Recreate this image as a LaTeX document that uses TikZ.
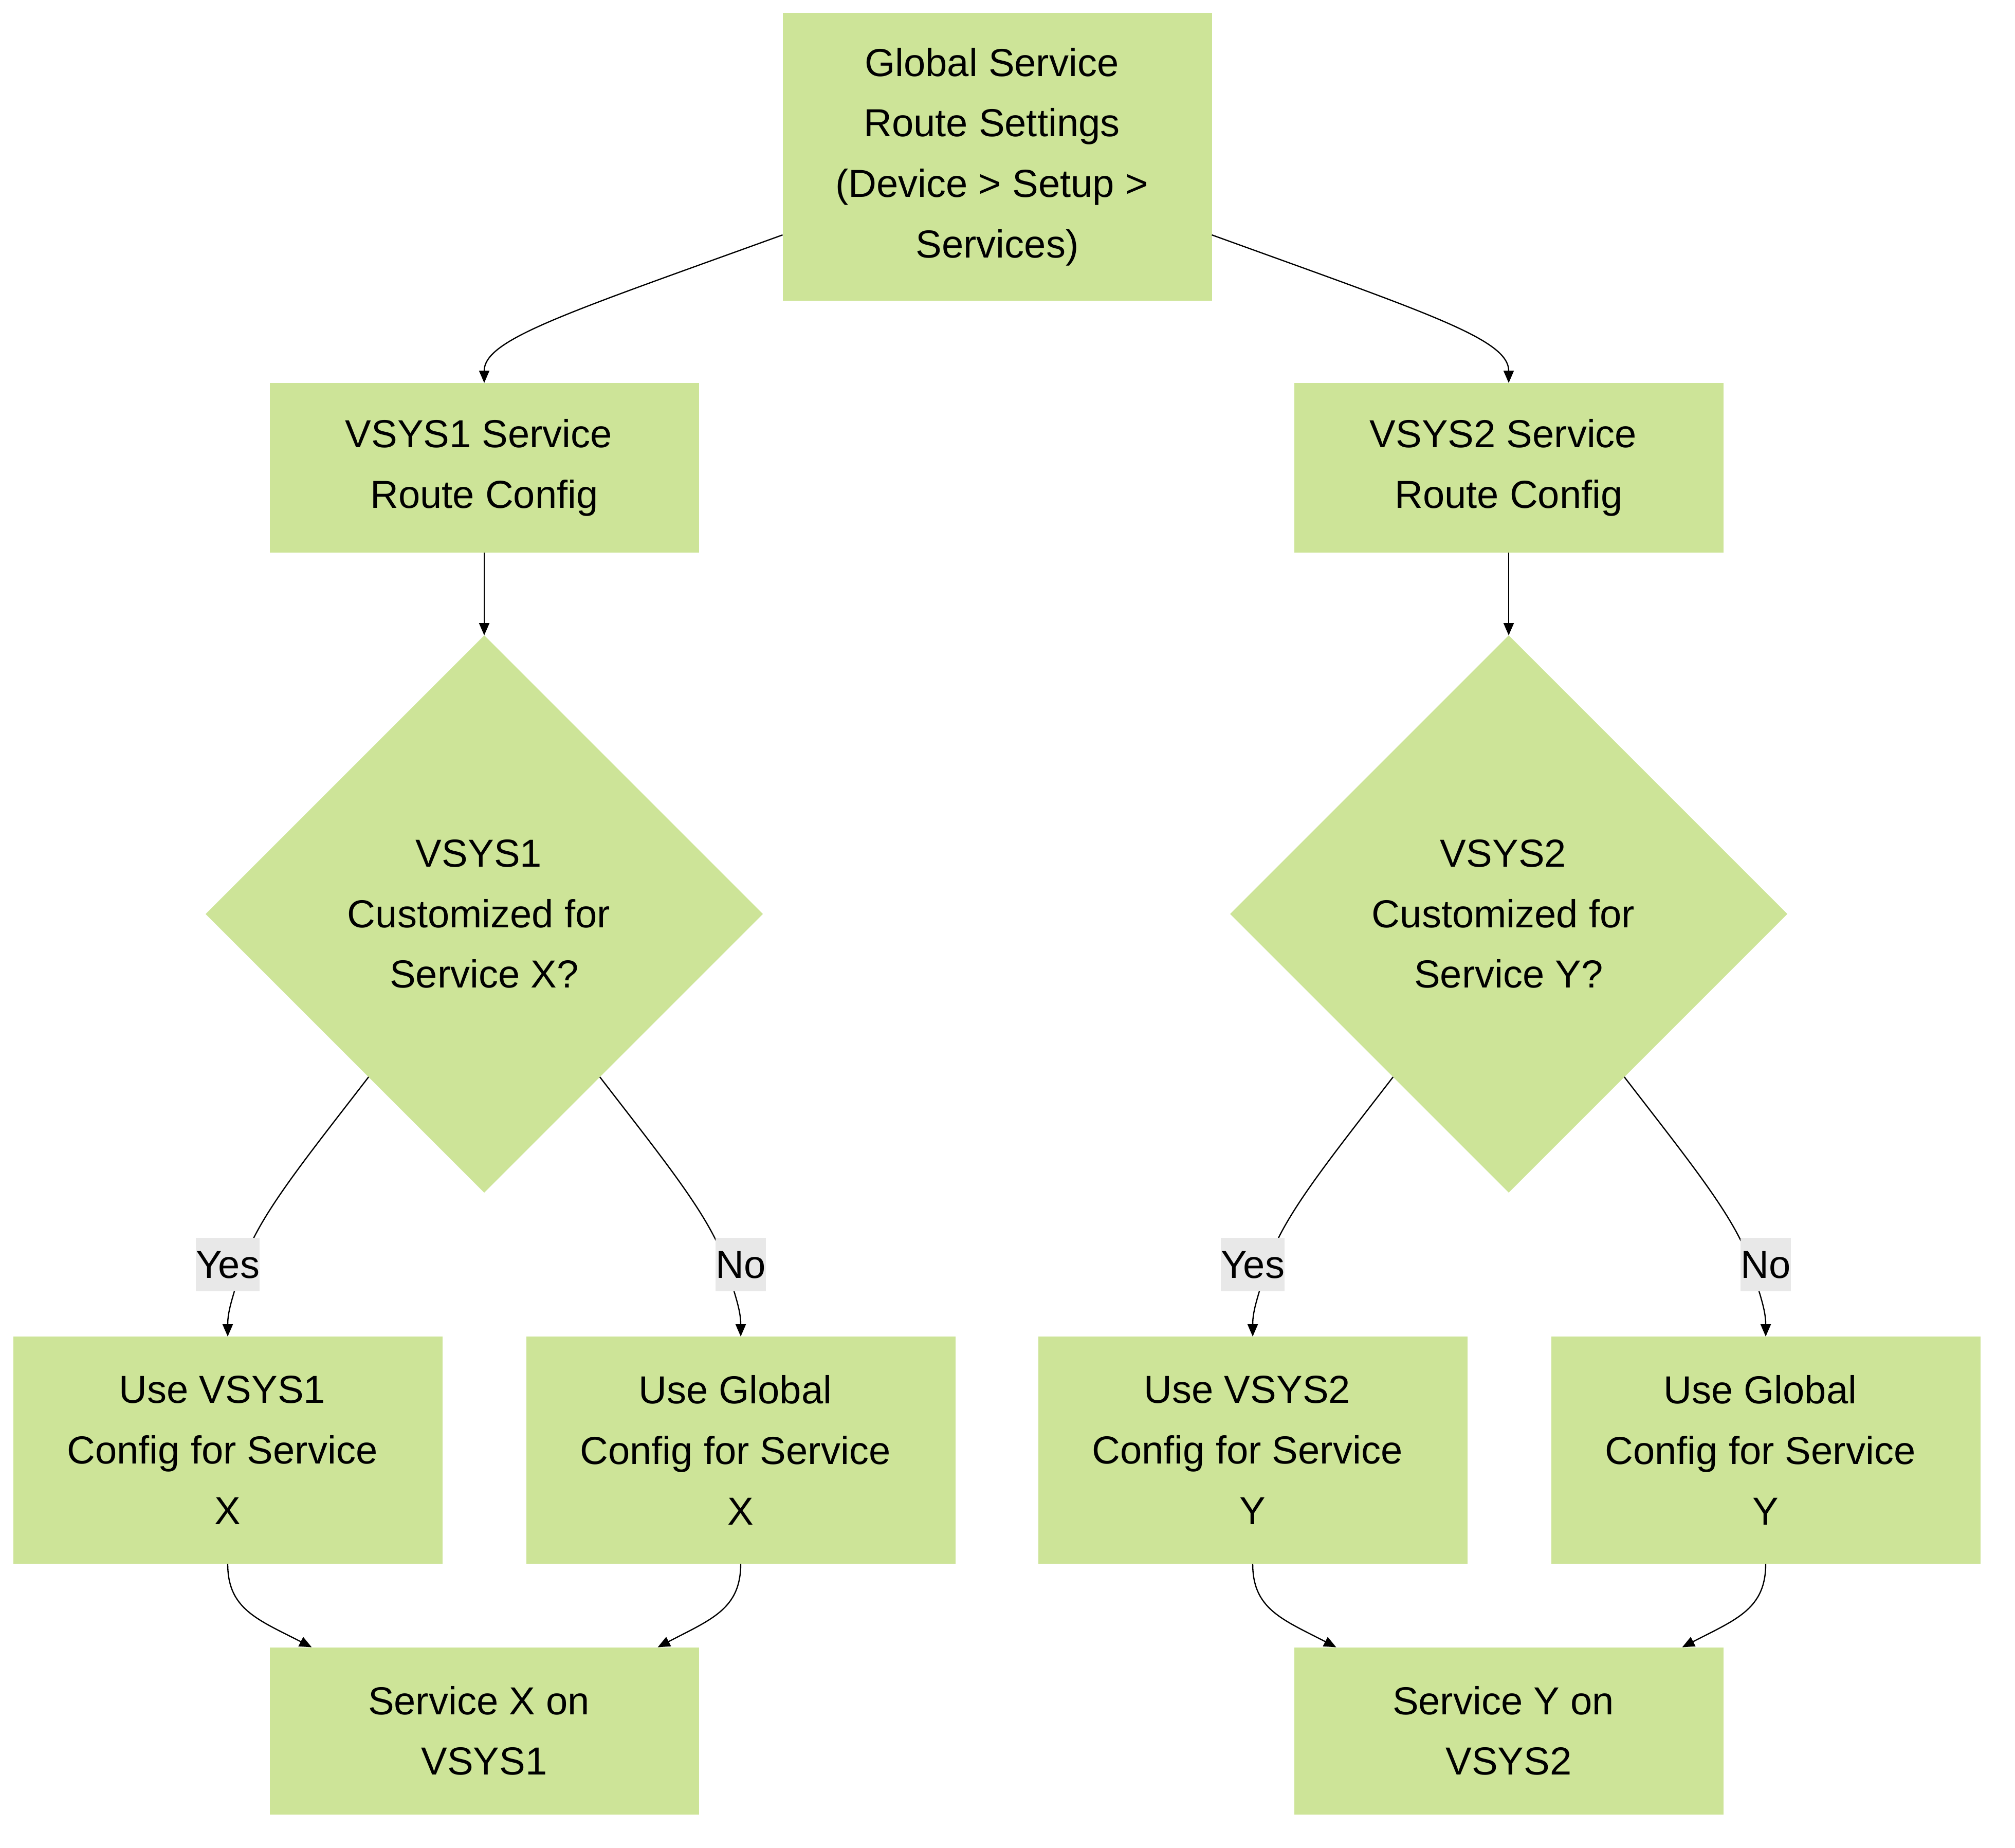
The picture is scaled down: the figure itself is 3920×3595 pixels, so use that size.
\documentclass[tikz,border=0pt]{standalone}
\usepackage{fontspec}
\setmainfont{Liberation Sans}
\usetikzlibrary{shapes.geometric,arrows.meta,calc}
\definecolor{nodefill}{HTML}{CDE498}
\definecolor{lblfill}{HTML}{E8E8E8}
\newcommand{\tsp}{\hbox{\ }}
\tikzset{
  box/.style={fill=nodefill, minimum width=208.75pt, align=center, inner sep=0pt, outer sep=0pt, font=\fontsize{19}{29.4}\selectfont},
  dec/.style={diamond, aspect=1, fill=nodefill, minimum width=271pt, minimum height=271pt, align=center, inner sep=0pt, outer sep=0pt, font=\fontsize{19}{29.4}\selectfont},
  lbl/.style={fill=lblfill, inner xsep=0pt, minimum height=26pt, text depth=0pt, font=\fontsize{19}{29.4}\selectfont},
  arr/.style={draw=black, line width=0.6pt, -{Triangle[length=6pt,width=5pt]}}
}
\begin{document}
\begin{tikzpicture}[x=0.25pt,y=-0.25pt]
\useasboundingbox (0,0) rectangle (3920,3595);
% nodes
\node[box, minimum height=140pt] (g) at (1940,305) {Global Service\tsp\\Route Settings\tsp\\(Device > Setup >\tsp\\Services)};
\node[box, minimum height=82.5pt] (v1) at (942,910) {VSYS1 Service\tsp\\Route Config};
\node[box, minimum height=82.5pt] (v2) at (2935,910) {VSYS2 Service\tsp\\Route Config};
\node[dec] (d1) at (942,1778) {VSYS1\tsp\\Customized for\tsp\\Service X?};
\node[dec] (d2) at (2935,1778) {VSYS2\tsp\\Customized for\tsp\\Service Y?};
\node[box, minimum height=110.5pt] (u1) at (443,2821) {Use VSYS1\tsp\\Config for Service\tsp\\X};
\node[box, minimum height=110.5pt] (u2) at (1441,2821) {Use Global\tsp\\Config for Service\tsp\\X};
\node[box, minimum height=110.5pt] (u3) at (2437,2821) {Use VSYS2\tsp\\Config for Service\tsp\\Y};
\node[box, minimum height=110.5pt] (u4) at (3435,2821) {Use Global\tsp\\Config for Service\tsp\\Y};
\node[box, minimum height=81.25pt] (sx) at (942,3367) {Service X on\tsp\\VSYS1};
\node[box, minimum height=81.25pt] (sy) at (2935,3367) {Service Y on\tsp\\VSYS2};
% edges
\draw[arr] ([yshift=32pt]g.south west) .. controls (1100,610) and (942,660) .. (v1.north);
\draw[arr] ([yshift=32pt]g.south east) .. controls (2780,610) and (2935,660) .. (v2.north);
\draw[arr] (v1.south) -- (d1.north);
\draw[arr] (v2.south) -- (d2.north);
\draw[arr] ($(d1.west)!0.585!(d1.south)$) .. controls (590,2260) and (500,2370) .. (472,2460) node[lbl, xshift=-7.25pt] (yes1) {Yes} .. controls (452,2525) and (443,2550) .. (u1.north);
\draw[arr] ($(d1.east)!0.585!(d1.south)$) .. controls (1294,2260) and (1384,2370) .. (1412,2460) node[lbl, xshift=7.25pt] (no1) {No} .. controls (1432,2525) and (1441,2550) .. (u2.north);
\draw[arr] ($(d2.west)!0.585!(d2.south)$) .. controls (2583,2260) and (2493,2370) .. (2466,2460) node[lbl, xshift=-7.25pt] (yes2) {Yes} .. controls (2446,2525) and (2437,2550) .. (u3.north);
\draw[arr] ($(d2.east)!0.585!(d2.south)$) .. controls (3287,2260) and (3377,2370) .. (3406,2460) node[lbl, xshift=7.25pt] (no2) {No} .. controls (3426,2525) and (3435,2550) .. (u4.north);
\draw[arr] (u1.south) .. controls (443,3130) and (500,3150) .. ([xshift=20.5pt]sx.north west);
\draw[arr] (u2.south) .. controls (1441,3130) and (1384,3150) .. ([xshift=-20pt]sx.north east);
\draw[arr] (u3.south) .. controls (2437,3130) and (2494,3150) .. ([xshift=20.5pt]sy.north west);
\draw[arr] (u4.south) .. controls (3435,3130) and (3378,3150) .. ([xshift=-20pt]sy.north east);
\end{tikzpicture}
\end{document}
